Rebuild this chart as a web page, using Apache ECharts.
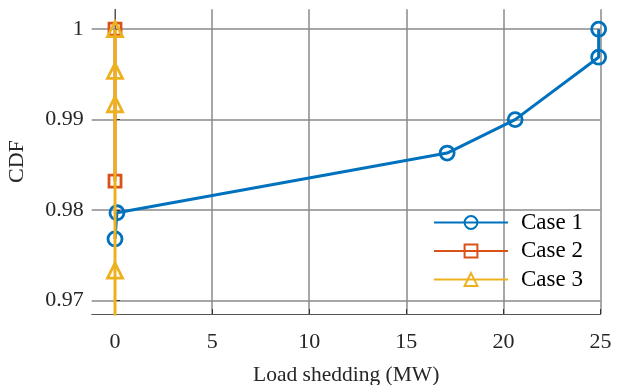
<!DOCTYPE html>
<html>
<head>
<meta charset="utf-8">
<script src="https://cdn.jsdelivr.net/npm/echarts@6/dist/echarts.min.js"></script>
<style>html,body{margin:0;padding:0;background:#fff}#c{width:622px;height:385px}</style>
</head>
<body>
<div id="c"></div>
<script>
const xTicks = [0, 5, 10, 15, 20, 25];
const yTicks = [0.97, 0.98, 0.99, 1];
const case1X = [0, 0.1, 17.1, 20.6, 24.9, 24.9];
const case1Y = [0.9768, 0.9797, 0.9863, 0.9900, 0.9969, 1.0];
const case2X = [0, 0];
const case2Y = [0.9832, 1.0];
const case3X = [0, 0, 0, 0, 0];
const case3Y = [0.96, 0.9733, 0.9917, 0.9954, 1.0];
const names = ['Case 1', 'Case 2', 'Case 3'];
const colors = ['#0072BD', '#D95319', '#EDB120'];
const symbols = ['circle', 'rect', 'triangle'];
const sizes = [14, 12, 15];

function pairs(xs, ys) { return xs.map((x, i) => [x, ys[i]]); }
const datasets = [pairs(case1X, case1Y), pairs(case2X, case2Y), pairs(case3X, case3Y)];

const font = 'Liberation Serif';
const chart = echarts.init(document.getElementById('c'), null, {renderer: 'canvas'});
chart.setOption({
  animation: false,
  backgroundColor: '#fff',
  grid: {left: 91.7, right: 21.4, top: 9.3, bottom: 71, containLabel: false, outerBoundsMode: 'none'},
  legend: {
    orient: 'vertical', left: 433, top: 211, padding: 0,
    itemWidth: 74, itemHeight: 16, itemGap: 5.5,
    textStyle: {fontFamily: font, fontSize: 23, color: '#000', lineHeight: 22, padding: [0, 0, 0, 8]},
    data: names
  },
  xAxis: {
    type: 'value', min: -1.2, max: 25,
    name: 'Load shedding (MW)', nameLocation: 'middle', nameGap: 50,
    nameTextStyle: {fontFamily: font, fontSize: 21.5, color: '#262626'},
    axisLine: {show: true, lineStyle: {color: '#555', width: 1}},
    axisTick: {show: true, inside: true, length: 5, customValues: xTicks, lineStyle: {color: '#333'}},
    axisLabel: {customValues: xTicks, fontFamily: font, fontSize: 22, color: '#262626', margin: 17},
    splitLine: {show: true, lineStyle: {color: '#8a8a8a', width: 1.5}}
  },
  yAxis: {
    type: 'value', min: 0.9685, max: 1.0022,
    name: 'CDF', nameLocation: 'middle', nameGap: 63,
    nameTextStyle: {fontFamily: font, fontSize: 22, color: '#262626'},
    axisLine: {show: true, lineStyle: {color: '#555', width: 1}},
    axisTick: {show: true, inside: true, length: 5, customValues: yTicks, lineStyle: {color: '#333'}},
    axisLabel: {customValues: yTicks, fontFamily: font, fontSize: 22, color: '#262626', margin: 8,
      formatter: v => String(+v.toFixed(4))},
    splitLine: {show: true, lineStyle: {color: '#8a8a8a', width: 1.5}}
  },
  series: names.map((n, i) => ({
    name: n, type: 'line', data: datasets[i],
    symbol: symbols[i], symbolSize: sizes[i], showAllSymbol: true,
    clip: true,
    lineStyle: {color: colors[i], width: 3},
    itemStyle: {color: 'rgba(255,255,255,0)', borderColor: colors[i], borderWidth: 2.8},
    z: 2 + i
  }))
});
</script>
</body>
</html>
